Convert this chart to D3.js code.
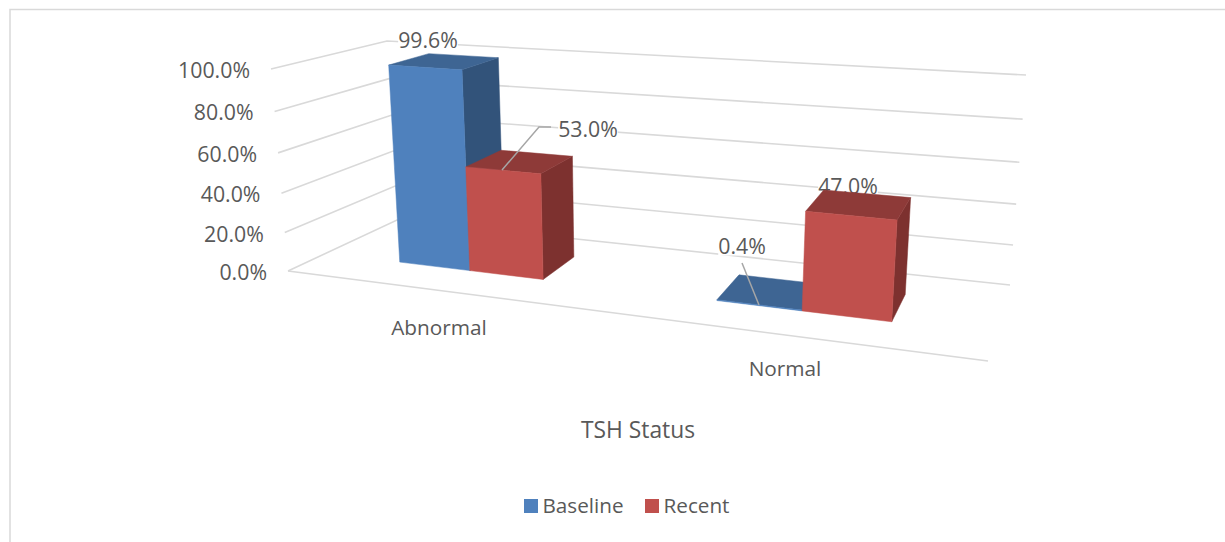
<!DOCTYPE html>
<html><head><meta charset="utf-8">
<script src="https://cdnjs.cloudflare.com/ajax/libs/d3/7.8.5/d3.min.js"></script>
<style>html,body{margin:0;padding:0;background:#fff}svg{display:block}text{font-family:"Open Sans",sans-serif;fill:#595959}</style>
</head><body><svg id="c" width="1225" height="542"></svg>
<script>
const categories=["Abnormal","Normal"];
const seriesNames=["Baseline","Recent"];
const baseline=[99.6,0.4];
const recent=[53.0,47.0];
const tickValues=[0,20,40,60,80,100];
const axisTitle="TSH Status";

const colors={Baseline:{front:"#4f81bd",top:"#3e6593",side:"#32537a"},Recent:{front:"#c0504d",top:"#8e3a38",side:"#7d312f"}};
const fmt=d3.format(".1f");
const svg=d3.select("#c");

// scales in chart space
const xCat=d3.scaleBand().domain(categories).range([0,1]);
const xSer=d3.scaleBand().domain(seriesNames).range([0,xCat.bandwidth()]).paddingInner(0).paddingOuter(1.1);
const yVal=d3.scaleLinear().domain([0,100]).range([0,1]);
const zDepth=d3.scaleLinear().domain([0,1]).range([0.35,0.73]);

// perspective box corners: f/b front/back, l/r, 0 bottom, 1 top
const box={fl0:[288,271],fr0:[988,361],bl0:[397,220],br0:[1010,285],fl1:[271,69],fr1:[1005,121],bl1:[387,41],br1:[1026,75]};
const warpX=u=>u/(1+0.22*(1-u));
const warpY=v=>v/(1+0.065*(1-v));
const mix=(a,b,t)=>[a[0]+(b[0]-a[0])*t,a[1]+(b[1]-a[1])*t];
function proj(u,v,w){
  const t=warpX(u);
  const b=mix(mix(box.fl0,box.fr0,t),mix(box.bl0,box.br0,t),w);
  const a=mix(mix(box.fl1,box.fr1,t),mix(box.bl1,box.br1,t),w);
  return mix(b,a,warpY(v));
}
const line=pts=>d3.line()(pts);

// frame
const grid="#d9d9d9";
svg.append("path").attr("d","M10,542V9.5H1225").attr("fill","none").attr("stroke",grid).attr("stroke-width",1.5);

// gridlines
tickValues.forEach(t=>{
  const v=yVal(t);
  svg.append("path").attr("d",line([proj(0,v,0),proj(0,v,1),proj(1,v,1)])).attr("fill","none").attr("stroke",grid).attr("stroke-width",1.6);
  const p=proj(0,v,0);
  svg.append("text").attr("x",p[0]-21).attr("y",p[1]+0.5).attr("text-anchor","end").attr("dominant-baseline","central").attr("font-size",21.3).text(fmt(t)+"%");
});
svg.append("path").attr("d",line([proj(0,0,0),proj(1,0,0)])).attr("fill","none").attr("stroke",grid).attr("stroke-width",1.6);

function label(txt,cx,cy){
  const g=svg.append("g");
  const t=g.append("text").attr("x",cx).attr("y",cy).attr("text-anchor","middle").attr("dominant-baseline","central").attr("font-size",21.3).text(txt);
  const b=t.node().getBBox();
  g.insert("rect","text").attr("x",b.x).attr("y",b.y+4).attr("width",b.width).attr("height",b.height-8).attr("fill","#fff");
}
function bar(cat,ser,val){
  const u0=xCat(cat)+xSer(ser),u1=u0+xSer.bandwidth(),v=yVal(val),z0=zDepth(0),z1=zDepth(1),c=colors[ser];
  const poly=(pts,col)=>svg.append("path").attr("d",line(pts)+"Z").attr("fill",col).attr("stroke",col).attr("stroke-width",0.5);
  poly([proj(u1,0,z0),proj(u1,0,z1),proj(u1,v,z1),proj(u1,v,z0)],c.side);
  poly([proj(u0,v,z0),proj(u0,v,z1),proj(u1,v,z1),proj(u1,v,z0)],c.top);
  poly([proj(u0,0,z0),proj(u1,0,z0),proj(u1,v,z0),proj(u0,v,z0)],c.front);
}
const leader=(pts)=>svg.append("path").attr("d",line(pts)).attr("fill","none").attr("stroke","#a6a6a6").attr("stroke-width",1.5);

label(fmt(baseline[0])+"%",428,39);
bar(categories[0],"Baseline",baseline[0]);
bar(categories[0],"Recent",recent[0]);
label(fmt(recent[0])+"%",588,128);
leader([[502,170],[539,127],[551,127]]);
bar(categories[1],"Baseline",baseline[1]);
label(fmt(baseline[1])+"%",742,245);
leader([[759,305],[742,263]]);
label(fmt(recent[1])+"%",848,185);
bar(categories[1],"Recent",recent[1]);

// category labels
svg.append("text").attr("x",439).attr("y",326.5).attr("text-anchor","middle").attr("dominant-baseline","central").attr("font-size",20.8).text(categories[0]);
svg.append("text").attr("x",785).attr("y",367.5).attr("text-anchor","middle").attr("dominant-baseline","central").attr("font-size",20.8).text(categories[1]);
svg.append("text").attr("x",638).attr("y",429.5).attr("text-anchor","middle").attr("dominant-baseline","central").attr("font-size",22.8).text(axisTitle);

// legend
const legendX=[524,645];
seriesNames.forEach((s,i)=>{
  svg.append("rect").attr("x",legendX[i]).attr("y",499).attr("width",14).attr("height",14).attr("fill",colors[s].front);
  svg.append("text").attr("x",legendX[i]+18.5).attr("y",504.5).attr("dominant-baseline","central").attr("font-size",20.7).text(s);
});
</script></body></html>
